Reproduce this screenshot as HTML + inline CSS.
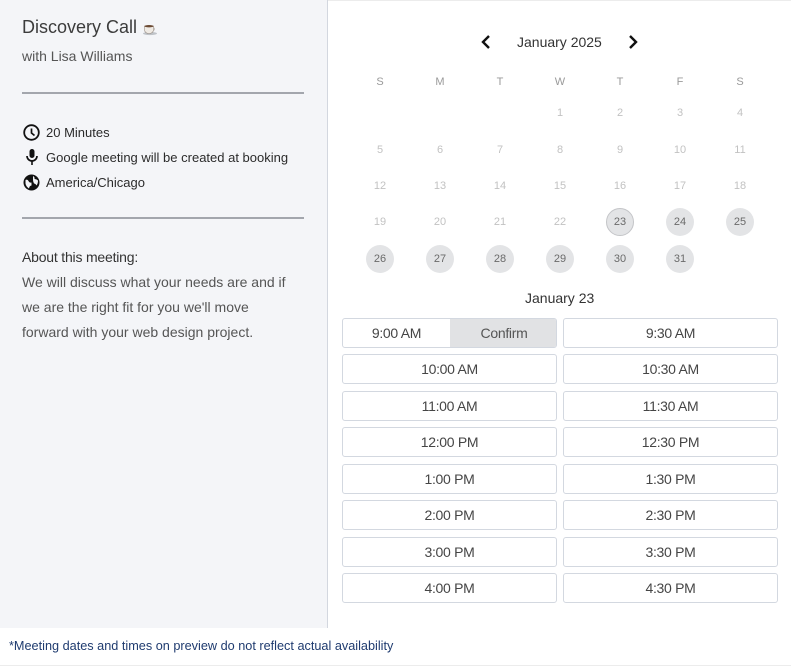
<!DOCTYPE html>
<html><head><meta charset="utf-8">
<style>
*{margin:0;padding:0;box-sizing:border-box}
html,body{width:791px;height:667px;overflow:hidden;background:#fff;font-family:"Liberation Sans",Arial,sans-serif}
.abs{position:absolute;white-space:nowrap}
#left{position:absolute;left:0;top:0;width:328px;height:628px;background:#f4f5f8;border-right:1px solid #d3d7df}
.hr{position:absolute;left:22px;width:282px;height:2px;background:#a3a6ad}
.dn{position:absolute;width:28px;height:28px;margin-left:-14px;margin-top:-14px;text-align:center;line-height:28px;font-size:11px;color:#c2c2c2}
.av{background:#e3e4e6;color:#6a6a6a;border-radius:50%}
.sel{border:1px solid #c4c5c8;line-height:26px}
.wd{position:absolute;width:20px;margin-left:-10px;text-align:center;font-size:11px;color:#9a9a9a}
.btn{position:absolute;height:30px;border:1px solid #d3d8e0;border-radius:3px;text-align:center;line-height:28px;font-size:14px;color:#454545;letter-spacing:-0.3px;background:#fff}
</style></head><body>
<div style="position:absolute;left:0;top:0;width:791px;height:1px;background:#ececec"></div>
<div id="left">
  <div class="abs" style="left:22px;top:17px;font-size:18px;color:#3c3c3c">Discovery Call</div>
  <svg class="abs" style="left:142px;top:20px" width="16" height="16" viewBox="0 0 16 16"><ellipse cx="8" cy="13.5" rx="7" ry="1.6" fill="#bfc3c8"/><path d="M2.5 6 h9 v4 a4.5 3.5 0 0 1 -9 0z" fill="#efeae4" stroke="#9a8f86" stroke-width=".6"/><ellipse cx="7" cy="6.2" rx="4.5" ry="1.2" fill="#6b4a33"/><path d="M11.5 7.5 a1.8 1.8 0 0 1 0 3" fill="none" stroke="#b8b1aa" stroke-width="1"/></svg>
  <div class="abs" style="left:22px;top:48px;font-size:14px;color:#555">with Lisa Williams</div>
  <div class="hr" style="top:92px"></div>
  <svg class="abs" style="left:23px;top:124px" width="17" height="17" viewBox="0 0 17 17"><circle cx="8.5" cy="8.5" r="7.3" fill="none" stroke="#111" stroke-width="1.8"/><path d="M8.5 4.5 V9 L11.5 11.5" fill="none" stroke="#111" stroke-width="1.7"/></svg>
  <div class="abs" style="left:46px;top:125px;font-size:13px;color:#2b2b2b">20 Minutes</div>
  <svg class="abs" style="left:24px;top:148px" width="16" height="18" viewBox="0 0 16 18"><rect x="5.5" y="1" width="5" height="9" rx="2.5" fill="#111"/><path d="M3 8 a5 5 0 0 0 10 0" fill="none" stroke="#111" stroke-width="1.7"/><rect x="7.2" y="12.5" width="1.6" height="4.5" fill="#111"/></svg>
  <div class="abs" style="left:46px;top:150px;font-size:13px;color:#2b2b2b">Google meeting will be created at booking</div>
  <svg class="abs" style="left:23px;top:174px" width="17" height="17" viewBox="0 0 17 17"><circle cx="8.5" cy="8.5" r="8" fill="#111"/><path d="M2.5 6 q2 -1 3 1 q1 2 3 1.5 l0 3 q-2 0 -2.5 3 q-3 -2 -3.5 -5z M10 2 q2 1 1.5 3 q2 0 3.5 1.5 q0 3 -1.5 5 q-1 -2 -2.5 -2 q-1 -2 -1 -3.5z" fill="#f4f5f8"/></svg>
  <div class="abs" style="left:46px;top:175px;font-size:13px;color:#2b2b2b">America/Chicago</div>
  <div class="hr" style="top:217px"></div>
  <div class="abs" style="left:22px;top:249px;font-size:14px;color:#333;letter-spacing:-0.2px">About this meeting:</div>
  <div class="abs" style="left:22px;top:270px;font-size:14px;line-height:25px;color:#555;white-space:normal;width:290px">We will discuss what your needs are and if<br>we are the right fit for you we'll move<br>forward with your web design project.</div>
</div>

<!-- calendar header -->
<svg class="abs" style="left:480px;top:34px" width="12" height="16" viewBox="0 0 12 16"><path d="M9 2 L3 8 L9 14" fill="none" stroke="#111" stroke-width="2.4"/></svg>
<div class="abs" style="left:517px;top:34px;font-size:14px;color:#333">January 2025</div>
<svg class="abs" style="left:627px;top:34px" width="12" height="16" viewBox="0 0 12 16"><path d="M3 2 L9 8 L3 14" fill="none" stroke="#111" stroke-width="2.4"/></svg>

<div class="wd" style="left:380px;top:76px">S</div>
<div class="wd" style="left:440px;top:76px">M</div>
<div class="wd" style="left:500px;top:76px">T</div>
<div class="wd" style="left:560px;top:76px">W</div>
<div class="wd" style="left:620px;top:76px">T</div>
<div class="wd" style="left:680px;top:76px">F</div>
<div class="wd" style="left:740px;top:76px">S</div>

<div class="dn" style="left:560px;top:113px">1</div>
<div class="dn" style="left:620px;top:113px">2</div>
<div class="dn" style="left:680px;top:113px">3</div>
<div class="dn" style="left:740px;top:113px">4</div>
<div class="dn" style="left:380px;top:150px">5</div>
<div class="dn" style="left:440px;top:150px">6</div>
<div class="dn" style="left:500px;top:150px">7</div>
<div class="dn" style="left:560px;top:150px">8</div>
<div class="dn" style="left:620px;top:150px">9</div>
<div class="dn" style="left:680px;top:150px">10</div>
<div class="dn" style="left:740px;top:150px">11</div>
<div class="dn" style="left:380px;top:186px">12</div>
<div class="dn" style="left:440px;top:186px">13</div>
<div class="dn" style="left:500px;top:186px">14</div>
<div class="dn" style="left:560px;top:186px">15</div>
<div class="dn" style="left:620px;top:186px">16</div>
<div class="dn" style="left:680px;top:186px">17</div>
<div class="dn" style="left:740px;top:186px">18</div>
<div class="dn" style="left:380px;top:222px">19</div>
<div class="dn" style="left:440px;top:222px">20</div>
<div class="dn" style="left:500px;top:222px">21</div>
<div class="dn" style="left:560px;top:222px">22</div>
<div class="dn av sel" style="left:620px;top:222px">23</div>
<div class="dn av" style="left:680px;top:222px">24</div>
<div class="dn av" style="left:740px;top:222px">25</div>
<div class="dn av" style="left:380px;top:259px">26</div>
<div class="dn av" style="left:440px;top:259px">27</div>
<div class="dn av" style="left:500px;top:259px">28</div>
<div class="dn av" style="left:560px;top:259px">29</div>
<div class="dn av" style="left:620px;top:259px">30</div>
<div class="dn av" style="left:680px;top:259px">31</div>

<div class="abs" style="left:525px;top:290px;font-size:14px;color:#333">January 23</div>

<!-- time slots -->
<div class="btn" style="left:342px;top:318px;width:215px;overflow:hidden;text-align:left">
  <span style="position:absolute;left:0;top:0;width:107px;text-align:center">9:00 AM</span>
  <span style="position:absolute;left:107px;top:0;width:108px;height:28px;background:#e1e2e4;text-align:center;color:#555">Confirm</span>
</div>
<div class="btn" style="left:563px;top:318px;width:215px">9:30 AM</div>
<div class="btn" style="left:342px;top:354px;width:215px">10:00 AM</div>
<div class="btn" style="left:563px;top:354px;width:215px">10:30 AM</div>
<div class="btn" style="left:342px;top:391px;width:215px">11:00 AM</div>
<div class="btn" style="left:563px;top:391px;width:215px">11:30 AM</div>
<div class="btn" style="left:342px;top:427px;width:215px">12:00 PM</div>
<div class="btn" style="left:563px;top:427px;width:215px">12:30 PM</div>
<div class="btn" style="left:342px;top:464px;width:215px">1:00 PM</div>
<div class="btn" style="left:563px;top:464px;width:215px">1:30 PM</div>
<div class="btn" style="left:342px;top:500px;width:215px">2:00 PM</div>
<div class="btn" style="left:563px;top:500px;width:215px">2:30 PM</div>
<div class="btn" style="left:342px;top:537px;width:215px">3:00 PM</div>
<div class="btn" style="left:563px;top:537px;width:215px">3:30 PM</div>
<div class="btn" style="left:342px;top:573px;width:215px">4:00 PM</div>
<div class="btn" style="left:563px;top:573px;width:215px">4:30 PM</div>

<div class="abs" style="left:9px;top:639px;font-size:12.7px;color:#1f3b6f">*Meeting dates and times on preview do not reflect actual availability</div>
<div style="position:absolute;left:0;top:665px;width:791px;height:1px;background:#ececec"></div>
</body></html>
